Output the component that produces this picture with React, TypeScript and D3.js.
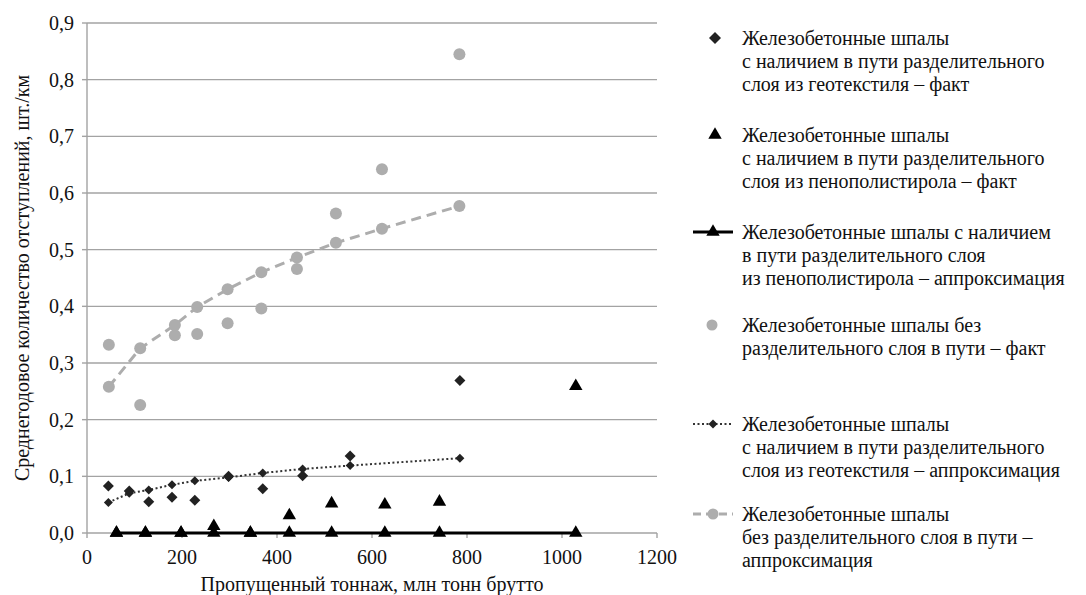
import React from "react";
import * as d3 from "d3";

// Tonnage ticks and average-defect ticks
const xTicks = [0, 200, 400, 600, 800, 1000, 1200];
const yTicks = [0, 0.1, 0.2, 0.3, 0.4, 0.5, 0.6, 0.7, 0.8, 0.9];

// geotextile separating layer
const geoX = [45, 89, 130, 179, 227, 298, 370, 454, 554, 785];
const geoFact = [0.083, 0.074, 0.055, 0.063, 0.058, 0.1, 0.078, 0.101, 0.136, 0.269];
const geoApprox = [0.054, 0.07, 0.076, 0.085, 0.092, 0.098, 0.106, 0.113, 0.119, 0.132];

// polystyrene foam separating layer
const epsX = [62, 123, 198, 267, 344, 426, 515, 627, 742, 1029];
const epsFact = [0, 0, 0, 0.012, 0, 0.031, 0.052, 0.05, 0.055, 0.259];
const epsApprox = [0, 0, 0, 0, 0, 0, 0, 0, 0, 0];

// no separating layer
const noX = [46, 112, 185, 232, 296, 367, 442, 524, 621, 784];
const noFact = [0.332, 0.226, 0.349, 0.351, 0.37, 0.396, 0.466, 0.564, 0.642, 0.845];
const noApprox = [0.258, 0.326, 0.367, 0.399, 0.43, 0.46, 0.486, 0.512, 0.537, 0.577];

const legendLabels = [
  ["Железобетонные шпалы", "с наличием в пути разделительного", "слоя из геотекстиля – факт"],
  ["Железобетонные шпалы", "с наличием в пути разделительного", "слоя из пенополистирола – факт"],
  ["Железобетонные шпалы с наличием", "в пути разделительного слоя", "из пенополистирола – аппроксимация"],
  ["Железобетонные шпалы без", "разделительного слоя в пути – факт"],
  ["Железобетонные шпалы", "с наличием в пути разделительного", "слоя из геотекстиля – аппроксимация"],
  ["Железобетонные шпалы", "без разделительного слоя в пути –", "аппроксимация"],
];
const legendY = [38, 135, 232, 325, 424, 514];

const W = 1086;
const H = 595;
const left = 87;
const right = 657;
const top = 23;
const bottom = 533;
const font = "Liberation Serif";
const gray = "#adadad";

const diamond = (s: number) => `M0,${-s}L${s},0L0,${s}L${-s},0Z`;
const triangle = d3.symbol(d3.symbolTriangle, 78)() as string;

function T(props: any) {
  return (
    <text fontFamily={font} fontSize={20} fill="#111" {...props}>
      {props.children}
    </text>
  );
}

export default function App() {
  const x = d3.scaleLinear().domain([0, 1200]).range([left, right]);
  const y = d3.scaleLinear().domain([0, 0.9]).range([bottom, top]);
  const fmt = (v: number) => d3.format(".1f")(v).replace(".", ",");

  const line = d3
    .line<[number, number]>()
    .x((d) => x(d[0]))
    .y((d) => y(d[1]));

  const noLine = line(noX.map((v, i) => [v, noApprox[i]]) as [number, number][]);
  const geoLine = line(geoX.map((v, i) => [v, geoApprox[i]]) as [number, number][]);
  const epsLine = line(epsX.map((v, i) => [v, epsApprox[i]]) as [number, number][]);

  return (
    <svg width={W} height={H} style={{ position: "absolute", left: 0, top: 0, background: "#fff" }}>
      {/* gridlines */}
      {yTicks.map((t) => (
        <line key={"g" + t} x1={left} x2={right} y1={y(t)} y2={y(t)} stroke="#a3a3a3" strokeWidth={1.4} />
      ))}
      {/* y axis */}
      <line x1={left} x2={left} y1={top} y2={bottom} stroke="#a3a3a3" strokeWidth={1.4} />
      {yTicks.map((t) => (
        <g key={"y" + t}>
          <line x1={left - 5} x2={left} y1={y(t)} y2={y(t)} stroke="#a3a3a3" strokeWidth={1.4} />
          <T x={74} y={y(t) + 7} textAnchor="end">
            {fmt(t)}
          </T>
        </g>
      ))}
      {/* x axis ticks */}
      {xTicks.map((t) => (
        <g key={"x" + t}>
          <line x1={x(t)} x2={x(t)} y1={bottom} y2={bottom + 5} stroke="#a3a3a3" strokeWidth={1.4} />
          <T x={x(t)} y={564} textAnchor="middle">
            {t}
          </T>
        </g>
      ))}
      <T x={(left + right) / 2} y={591} textAnchor="middle">
        Пропущенный тоннаж, млн тонн брутто
      </T>
      <T transform={`translate(29,${(top + bottom) / 2}) rotate(-90)`} textAnchor="middle">
        Среднегодовое количество отступлений, шт./км
      </T>

      {/* no separating layer */}
      <path d={noLine || ""} fill="none" stroke={gray} strokeWidth={3} strokeDasharray="10,6" />
      {noX.map((v, i) => (
        <circle key={"nf" + i} cx={x(v)} cy={y(noFact[i])} r={6} fill={gray} />
      ))}
      {noX.map((v, i) => (
        <circle key={"na" + i} cx={x(v)} cy={y(noApprox[i])} r={6} fill={gray} />
      ))}

      {/* geotextile */}
      <path d={geoLine || ""} fill="none" stroke="#333" strokeWidth={2} strokeDasharray="2,2.5" />
      {geoX.map((v, i) => (
        <path key={"gf" + i} transform={`translate(${x(v)},${y(geoFact[i])})`} d={diamond(5.5)} fill="#222" />
      ))}
      {geoX.map((v, i) => (
        <path key={"ga" + i} transform={`translate(${x(v)},${y(geoApprox[i])})`} d={diamond(4.5)} fill="#222" />
      ))}

      {/* polystyrene */}
      <path d={epsLine || ""} fill="none" stroke="#000" strokeWidth={3} />
      {epsX.map((v, i) => (
        <path key={"ea" + i} transform={`translate(${x(v)},${y(epsApprox[i])})`} d={triangle} fill="#000" />
      ))}
      {epsX.map((v, i) => (
        <path key={"ef" + i} transform={`translate(${x(v)},${y(epsFact[i])})`} d={triangle} fill="#000" />
      ))}

      {/* legend */}
      <g>
        <path transform={`translate(715,${legendY[0]})`} d={diamond(6)} fill="#222" />
        <path transform={`translate(715,${legendY[1]})`} d={triangle} fill="#000" />
        <line x1={693} x2={733} y1={legendY[2]} y2={legendY[2]} stroke="#000" strokeWidth={3} />
        <path transform={`translate(713,${legendY[2]})`} d={triangle} fill="#000" />
        <circle cx={712} cy={legendY[3]} r={5.5} fill={gray} />
        <line x1={693} x2={733} y1={legendY[4]} y2={legendY[4]} stroke="#333" strokeWidth={2} strokeDasharray="2,2.5" />
        <path transform={`translate(713,${legendY[4]})`} d={diamond(4.5)} fill="#222" />
        <line x1={693} x2={733} y1={legendY[5]} y2={legendY[5]} stroke={gray} strokeWidth={3} strokeDasharray="8,5" />
        <circle cx={713} cy={legendY[5]} r={5.5} fill={gray} />
        {legendLabels.map((lines, k) =>
          lines.map((s, j) => (
            <T key={"l" + k + j} x={742} y={legendY[k] + 7 + j * 23}>
              {s}
            </T>
          ))
        )}
      </g>
    </svg>
  );
}
